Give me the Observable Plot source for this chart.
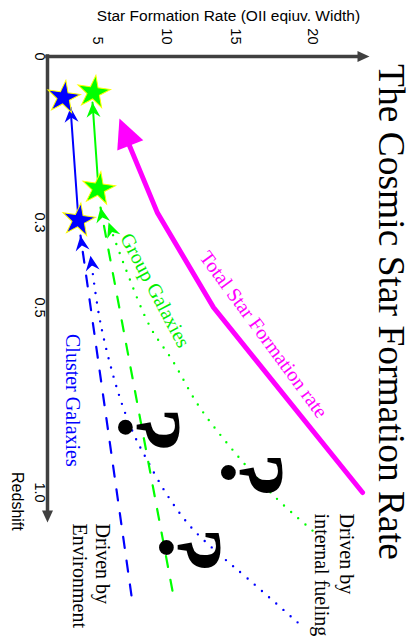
<!DOCTYPE html>
<html><head><meta charset="utf-8">
<script src="https://cdn.jsdelivr.net/npm/d3@7"></script>
<script src="https://cdn.jsdelivr.net/npm/@observablehq/plot@0.6"></script>
<style>
html,body{margin:0;padding:0;background:#fff;}
#chart svg{display:block;}
</style></head>
<body><div id="chart"></div>
<script>
// ---- tick values / labels ----
const sfrTicks = [5, 10, 15, 20];
const zTicks = [0, 0.3, 0.5, 1.0];
const zTickLabels = ["0", "0.3", "0.5", "1.0"];

// ---- observed points (stars): [SFR, redshift] ----
const clusterStars = [[1.6, 0.074], [3.1, 0.296]];
const groupStars = [[4.6, 0.065], [5.07, 0.239]];

// ---- observed evolution (solid), last point = arrow tip ----
const clusterTrend = [[3.1, 0.296], [2.3, 0.092]];
const groupTrend = [[5.07, 0.239], [4.5, 0.083]];

// ---- driven by environment (dashed), last point = arrow tip ----
const clusterEnv = [[7.46, 1.278], [3.3, 0.331]];
const groupEnv = [[10.43, 1.265], [5.22, 0.273]];

// ---- driven by internal fueling (dotted), last point = arrow tip ----
const clusterInternal = [[19.03, 1.351], [15.78, 1.232], [13.77, 1.165], [11.74, 1.092], [10.07, 1.008], [8.62, 0.914], [7.61, 0.841], [6.52, 0.732], [5.22, 0.543], [4.3, 0.378]];
const groupInternal = [[20.0, 1.103], [17.47, 1.008], [14.64, 0.878], [12.32, 0.765], [10.43, 0.643], [8.84, 0.554], [7.03, 0.408], [5.8, 0.3]];

// ---- total star formation rate ----
const totalSFR = [[23.25, 1.0], [13.41, 0.5], [9.35, 0.283], [7.25, 0.157]];
const totalTip = [[6.59, 0.112]];

// ---- question marks [SFR, redshift] ----
const questions = [[8.7, 0.832], [16.04, 0.954], [11.67, 1.157]];

// ---- axes extents ----
const sfrAxis = [0, 23.0, 23.7];   // start, line end, arrow tip
const zAxis = [0, 1.054, 1.081];

const blue = "#0000ff", green = "#00ff00", magenta = "#ff00ff", axisColor = "#404040";
const sans = "'Liberation Sans', Arial, sans-serif";
const serif = "'Liberation Serif', 'Times New Roman', serif";

const xOpts = {type: "linear", domain: [0, 5, 10, 15, 20], range: [47, 97, 166, 235, 312]};
const yOpts = {type: "linear", domain: [0, 0.3, 0.5, 1.0], range: [56, 222, 307, 492]};
const sx = Plot.scale({x: xOpts}), sy = Plot.scale({y: yOpts});

function headOf(line, tip) {
  const a = line[line.length - 2], b = tip || line[line.length - 1];
  const dx = sx.apply(b[0]) - sx.apply(a[0]);
  const dy = sy.apply(b[1]) - sy.apply(a[1]);
  return {x: b[0], y: b[1], angle: Math.atan2(dx, -dy) * 180 / Math.PI};
}
const stealth = {draw(ctx) { ctx.moveTo(0, 0); ctx.lineTo(7, 15); ctx.lineTo(0, 10); ctx.lineTo(-7, 15); ctx.closePath(); }};
const bigHead = {draw(ctx) { ctx.moveTo(0, 0); ctx.lineTo(14, 29); ctx.lineTo(-14, 29); ctx.closePath(); }};
const axisHead = {draw(ctx) { ctx.moveTo(0, 0); ctx.lineTo(5.5, 12); ctx.lineTo(-5.5, 12); ctx.closePath(); }};

const clusterHeads = [headOf(clusterTrend), headOf(clusterEnv), headOf(clusterInternal)];
const groupHeads = [headOf(groupTrend), headOf(groupEnv), headOf(groupInternal)];
const totalHeads = [headOf(totalSFR, totalTip[0])];

const X = d => d[0], Y = d => d[1];

const chart = Plot.plot({
  width: 412, height: 642,
  marginTop: 56, marginLeft: 47, marginRight: 0, marginBottom: 0,
  x: xOpts, y: yOpts,
  style: {background: "white", overflow: "visible"},
  marks: [
    // axes
    Plot.ruleY([0], {x1: sfrAxis[0], x2: sfrAxis[1], stroke: axisColor, strokeWidth: 3.5, strokeLinecap: "square"}),
    Plot.ruleX([0], {y1: zAxis[0], y2: zAxis[1], stroke: axisColor, strokeWidth: 3.5, strokeLinecap: "square"}),
    Plot.dot([[sfrAxis[2], 0]], {x: X, y: Y, symbol: axisHead, rotate: 90, fill: axisColor, stroke: "none"}),
    Plot.dot([[0, zAxis[2]]], {x: X, y: Y, symbol: axisHead, rotate: 180, fill: axisColor, stroke: "none"}),
    Plot.axisX({anchor: "top", ticks: sfrTicks, tickSize: 0, tickPadding: 12, tickRotate: 90,
      textAnchor: "end", lineAnchor: "middle", label: null, fontSize: 14.5, fontFamily: sans, fill: "black"}),
    Plot.axisY({anchor: "left", ticks: zTicks, tickSize: 0, tickPadding: 8, tickRotate: 90,
      textAnchor: "middle", lineAnchor: "middle", label: null, fontSize: 14.5, fontFamily: sans, fill: "black",
      tickFormat: d => zTickLabels[zTicks.indexOf(d)]}),
    Plot.text(["Star Formation Rate (OII eqiuv. Width)"], {x: 14.49, y: -0.074, fontSize: 15.5, fontFamily: sans, fill: "black"}),
    Plot.text(["Redshift"], {x: -3.0, y: 1.024, rotate: 90, fontSize: 16, fontFamily: sans, fill: "black"}),

    // total SFR
    Plot.line(totalSFR, {x: X, y: Y, stroke: magenta, strokeWidth: 5}),
    Plot.dot(totalHeads, {x: "x", y: "y", rotate: "angle", symbol: bigHead, fill: magenta, stroke: "none"}),

    // internal fueling (dotted)
    Plot.line(groupInternal, {x: X, y: Y, curve: "catmull-rom", stroke: green, strokeWidth: 2.4, strokeDasharray: "0 9.5", strokeLinecap: "round"}),
    Plot.line(clusterInternal, {x: X, y: Y, curve: "catmull-rom", stroke: blue, strokeWidth: 2.4, strokeDasharray: "0 9.5", strokeLinecap: "round"}),
    // environment (dashed)
    Plot.line(groupEnv, {x: X, y: Y, stroke: green, strokeWidth: 2.2, strokeDasharray: "11 13"}),
    Plot.line(clusterEnv, {x: X, y: Y, stroke: blue, strokeWidth: 2.2, strokeDasharray: "11 13"}),
    // observed (solid)
    Plot.line(groupTrend, {x: X, y: Y, stroke: green, strokeWidth: 2}),
    Plot.line(clusterTrend, {x: X, y: Y, stroke: blue, strokeWidth: 2}),
    Plot.dot(groupHeads, {x: "x", y: "y", rotate: "angle", symbol: stealth, fill: green, stroke: "none"}),
    Plot.dot(clusterHeads, {x: "x", y: "y", rotate: "angle", symbol: stealth, fill: blue, stroke: "none"}),
    // stars
    Plot.dot(groupStars, {x: X, y: Y, symbol: "star", r: 10.3, rotate: 8, fill: green, stroke: "#ffff00", strokeWidth: 1}),
    Plot.dot(clusterStars, {x: X, y: Y, symbol: "star", r: 10.3, rotate: 8, fill: blue, stroke: "#ffff00", strokeWidth: 1}),

    // question marks
    Plot.text(questions, {x: X, y: Y, text: () => "?", rotate: 90, fontSize: 92, fontWeight: "bold", fontFamily: serif, fill: "black"}),

    // annotations
    Plot.text(["Total Star Formation rate"], {x: 16.82, y: 0.573, rotate: 53.6, fontSize: 20, fontFamily: serif, fill: magenta}),
    Plot.text(["Group Galaxies"], {x: 9.17, y: 0.46, rotate: 62, fontSize: 20, fontFamily: serif, fill: "#00ee00"}),
    Plot.text(["Cluster Galaxies"], {x: 2.5, y: 0.751, rotate: 90, fontSize: 20, fontFamily: serif, fill: blue}),
    Plot.text(["Driven by\ninternal fueling"], {x: 21.5, y: 1.057, rotate: 90, textAnchor: "start", lineHeight: 1.25, fontSize: 20, fontFamily: serif, fill: "black"}),
    Plot.text(["Driven by\nEnvironment"], {x: 4.4, y: 1.084, rotate: 90, textAnchor: "start", lineHeight: 1.15, fontSize: 20, fontFamily: serif, fill: "black"}),
    Plot.text(["The Cosmic Star Formation Rate"], {x: 25.1, y: 0.512, rotate: 90, fontSize: 37.5, fontFamily: serif, fill: "black"})
  ]
});
document.getElementById("chart").appendChild(chart);
</script>
</body></html>
